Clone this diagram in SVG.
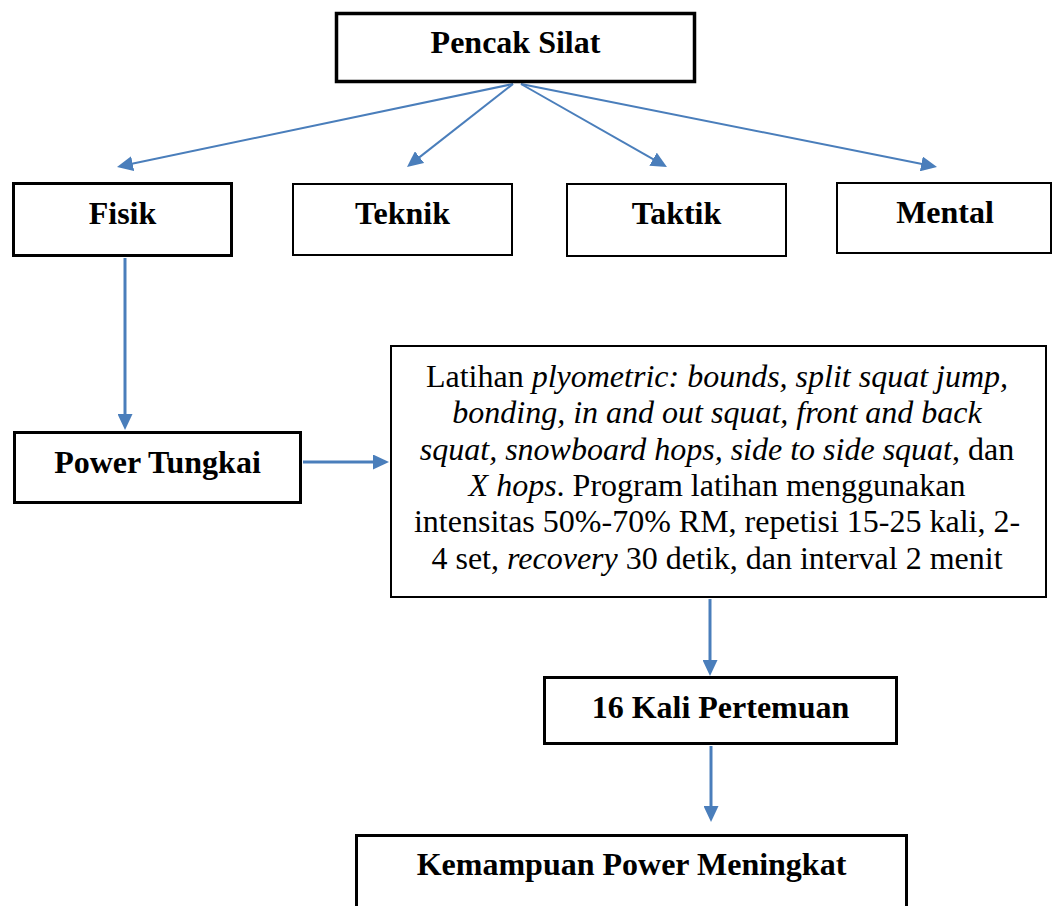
<svg xmlns="http://www.w3.org/2000/svg" width="1053" height="906" viewBox="0 0 1053 906">
<style>
.box{fill:#fff;stroke:#000}
.lbl{font-family:"Liberation Serif","Times New Roman",serif;font-size:32px;font-weight:bold;fill:#000;text-anchor:middle}
.body{font-family:"Liberation Serif","Times New Roman",serif;font-size:32px;fill:#000;text-anchor:middle}
.it{font-style:italic}
.con{stroke:#4A7EBB;fill:none;marker-end:url(#ah)}
.thin{stroke-width:2}
.thick{stroke-width:3}
</style>
<defs>
<marker id="ah" markerUnits="userSpaceOnUse" markerWidth="16" markerHeight="15" refX="2" refY="7.5" orient="auto">
<path d="M0,0 L16,7.5 L0,15 z" fill="#4A7EBB"/>
</marker>
</defs>
<rect width="1053" height="906" fill="#fff"/>
<g id="connectors">
<line class="con thin" x1="513" y1="84" x2="130.7" y2="164.1"/>
<line class="con thin" x1="513" y1="84" x2="418" y2="158.4"/>
<line class="con thin" x1="521" y1="84" x2="654.8" y2="160.1"/>
<line class="con thin" x1="521" y1="84" x2="923.3" y2="164.3"/>
<line class="con thick" x1="125" y1="258" x2="125" y2="416"/>
<line class="con thick" x1="303" y1="462" x2="375" y2="462"/>
<line class="con thick" x1="710" y1="599" x2="710" y2="662"/>
<line class="con thick" x1="711" y1="746" x2="711" y2="808"/>
</g>
<g id="pencak-silat">
<rect class="box" x="336.5" y="13.5" width="358" height="68" stroke-width="3.5"/>
<text class="lbl" x="515.5" y="53">Pencak Silat</text>
</g>
<g id="fisik">
<rect class="box" x="13.5" y="183.5" width="218" height="72" stroke-width="3"/>
<text class="lbl" x="122.5" y="224">Fisik</text>
</g>
<g id="teknik">
<rect class="box" x="293" y="184" width="219" height="71" stroke-width="2"/>
<text class="lbl" x="402.5" y="224">Teknik</text>
</g>
<g id="taktik">
<rect class="box" x="567" y="184" width="219" height="72" stroke-width="2"/>
<text class="lbl" x="676.5" y="224">Taktik</text>
</g>
<g id="mental">
<rect class="box" x="837" y="183" width="214" height="70" stroke-width="2"/>
<text class="lbl" x="945" y="223">Mental</text>
</g>
<g id="power-tungkai">
<rect class="box" x="14.5" y="432.5" width="286" height="70" stroke-width="3"/>
<text class="lbl" x="157.5" y="473">Power Tungkai</text>
</g>
<g id="latihan">
<rect class="box" x="391" y="346" width="655" height="251" stroke-width="2"/>
<text class="body" x="717" y="387">Latihan <tspan class="it">plyometric: bounds, split squat jump,</tspan></text>
<text class="body it" x="717" y="423.3">bonding, in and out squat, front and back</text>
<text class="body" x="717" y="459.6"><tspan class="it">squat, snowboard hops, side to side squat</tspan>, dan</text>
<text class="body" x="717" y="495.9"><tspan class="it">X hops</tspan>. Program latihan menggunakan</text>
<text class="body" x="717" y="532.2">intensitas 50%-70% RM, repetisi 15-25 kali, 2-</text>
<text class="body" x="717" y="568.5">4 set, <tspan class="it">recovery</tspan> 30 detik, dan interval 2 menit</text>
</g>
<g id="pertemuan">
<rect class="box" x="544.5" y="677.5" width="352" height="66" stroke-width="3"/>
<text class="lbl" x="720.5" y="718">16 Kali Pertemuan</text>
</g>
<g id="kemampuan">
<rect class="box" x="356.5" y="835.5" width="550" height="100" stroke-width="3"/>
<text class="lbl" x="631.5" y="875">Kemampuan Power Meningkat</text>
</g>
</svg>
